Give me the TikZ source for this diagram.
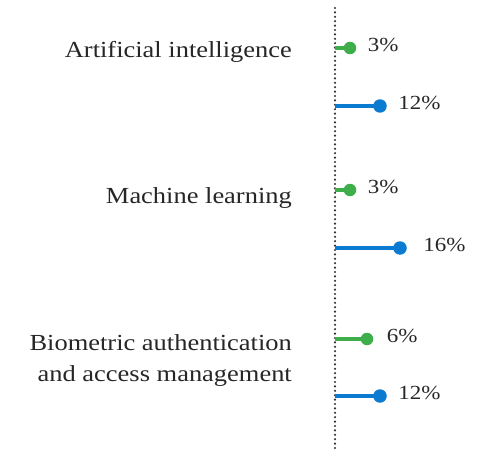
\documentclass[tikz,border=0pt]{standalone}
\usepackage{fontspec}
\setmainfont[FakeStretch=1.15]{Liberation Serif}
\usetikzlibrary{positioning}
\definecolor{techgreen}{HTML}{3DAE49}
\definecolor{techblue}{HTML}{0A7BD0}
\tikzset{
  catlabel/.style={anchor=east, align=right, inner sep=0pt, text=black!85, font=\fontsize{23}{31}\selectfont},
  pctlabel/.style={anchor=west, text=black!85, font=\fontsize{20}{24}\selectfont},
  gdot/.style={circle, fill=techgreen, inner sep=0pt, minimum size=12.5pt},
  bdot/.style={circle, fill=techblue, inner sep=0pt, minimum size=13.5pt},
  gbar/.style={techgreen, line width=4.5pt},
  bbar/.style={techblue, line width=4.5pt}
}
\begin{document}
\begin{tikzpicture}[x=1pt,y=-1pt]
\useasboundingbox (0,0) rectangle (480,452);
% axis
\coordinate (top) at (335,8);
\coordinate (bot) at (335,450);
\draw[line width=2.4pt, line cap=round, dash pattern=on 0pt off 4.4pt, black!80] (top) -- (bot);
% categories
\node[catlabel] (ai) at (292,52) {Artificial intelligence};
\node[catlabel] (ml) at (292,198) {Machine learning};
\node[catlabel] (bio) at (292,361) {Biometric authentication\\and access management};
% bar starts on the axis
\coordinate (g1) at (335,48);
\coordinate (b1) at (335,106);
\coordinate (g2) at (335,190);
\coordinate (b2) at (335,248);
\coordinate (g3) at (335,339);
\coordinate (b3) at (335,396);
% bar ends
\node[gdot] (gd1) at (350,48) {};
\node[bdot] (bd1) at (380,106) {};
\node[gdot] (gd2) at (350,190) {};
\node[bdot] (bd2) at (400,248) {};
\node[gdot] (gd3) at (367,339) {};
\node[bdot] (bd3) at (380,396) {};
\draw[gbar] (g1) -- (gd1.center);
\draw[bbar] (b1) -- (bd1.center);
\draw[gbar] (g2) -- (gd2.center);
\draw[bbar] (b2) -- (bd2.center);
\draw[gbar] (g3) -- (gd3.center);
\draw[bbar] (b3) -- (bd3.center);
% values
\node[pctlabel, right=8pt of gd1, yshift=3pt] (v1) {3\%};
\node[pctlabel, right=8pt of bd1, yshift=3pt] (v2) {12\%};
\node[pctlabel, right=8pt of gd2, yshift=3pt] (v3) {3\%};
\node[pctlabel, right=13pt of bd2, yshift=3pt] (v4) {16\%};
\node[pctlabel, right=10pt of gd3, yshift=3pt] (v5) {6\%};
\node[pctlabel, right=8pt of bd3, yshift=3pt] (v6) {12\%};
\end{tikzpicture}
\end{document}
